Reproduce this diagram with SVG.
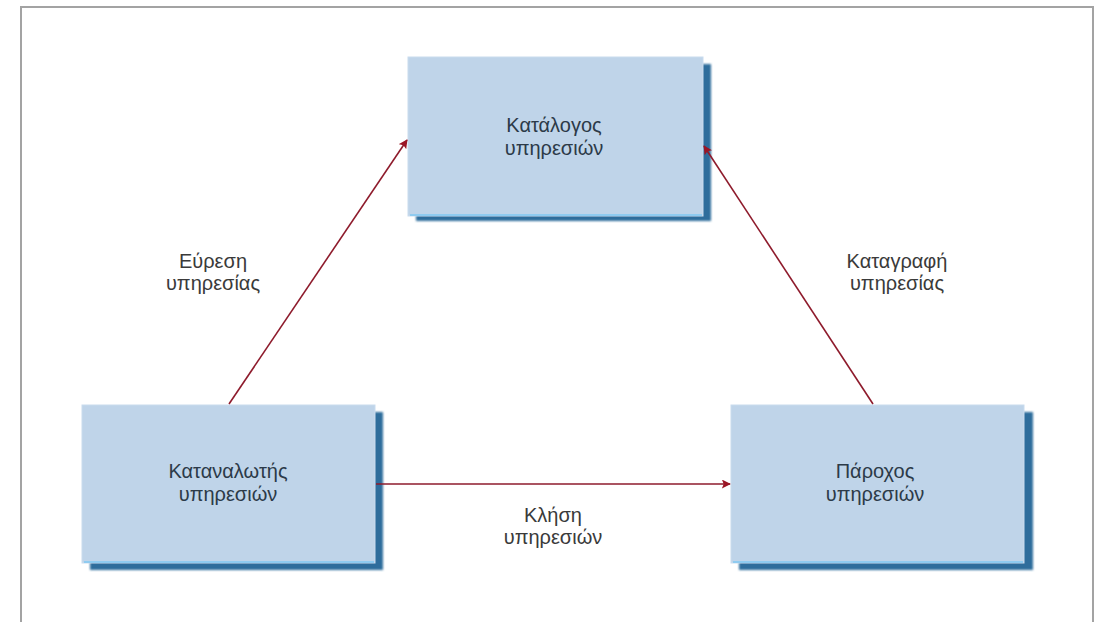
<svg xmlns="http://www.w3.org/2000/svg" width="1097" height="622" viewBox="0 0 1097 622">
<style>
.box{fill:#bfd4e9;stroke:#c9dcee;stroke-width:1}
.shadow{fill:#2f6d9c}
.edge{fill:none;stroke:#8fcbf0;stroke-width:2}
.nt{font-family:"Liberation Sans",Arial,sans-serif;font-size:20px;fill:#2c3a48;text-anchor:middle}
.lt{font-family:"Liberation Sans",Arial,sans-serif;font-size:20px;fill:#3a3a3a;text-anchor:middle}
.conn{stroke:#8e1b2c;stroke-width:1.6;fill:none;marker-end:url(#ah)}
</style>
<defs>
<marker id="ah" viewBox="0 0 10 10" refX="9" refY="5" markerWidth="10" markerHeight="9" markerUnits="userSpaceOnUse" orient="auto">
<path d="M0,0 L10,5 L0,10 L2,5 z" fill="#9b1525"/>
</marker>
<filter id="blur" x="-5%" y="-5%" width="110%" height="110%"><feGaussianBlur stdDeviation="1"/></filter>
</defs>
<rect width="1097" height="622" fill="#ffffff"/>
<path d="M21,622 L21,7 L1093,7 L1093,622" fill="none" stroke="#a3a3a3" stroke-width="2"/>

<g id="katalogos">
<rect class="shadow" x="416" y="64" width="295" height="157" filter="url(#blur)"/>
<rect class="box" x="408" y="57" width="295" height="159"/>
<path class="edge" d="M410,215 L702,215"/>
<text class="nt" x="554" y="132">Κατάλογος</text>
<text class="nt" x="554" y="155">υπηρεσιών</text>
</g>

<g id="katanalotis">
<rect class="shadow" x="90" y="412" width="293" height="158" filter="url(#blur)"/>
<rect class="box" x="82" y="405" width="293" height="158"/>
<path class="edge" d="M84,562 L374,562"/>
<text class="nt" x="228" y="478">Καταναλωτής</text>
<text class="nt" x="228" y="501">υπηρεσιών</text>
</g>

<g id="parochos">
<rect class="shadow" x="739" y="412" width="294" height="158" filter="url(#blur)"/>
<rect class="box" x="731" y="405" width="293" height="158"/>
<path class="edge" d="M733,562 L1023,562"/>
<text class="nt" x="875" y="478">Πάροχος</text>
<text class="nt" x="875" y="501">υπηρεσιών</text>
</g>

<g id="connectors">
<line class="conn" x1="229" y1="404" x2="407" y2="140"/>
<line class="conn" x1="873" y1="404" x2="704" y2="146"/>
<line class="conn" x1="376" y1="484" x2="730" y2="484"/>
</g>

<g id="labels">
<text class="lt" x="213" y="268">Εύρεση</text>
<text class="lt" x="213" y="290">υπηρεσίας</text>
<text class="lt" x="897" y="268">Καταγραφή</text>
<text class="lt" x="897" y="290">υπηρεσίας</text>
<text class="lt" x="553" y="522">Κλήση</text>
<text class="lt" x="553" y="544">υπηρεσιών</text>
</g>
</svg>
